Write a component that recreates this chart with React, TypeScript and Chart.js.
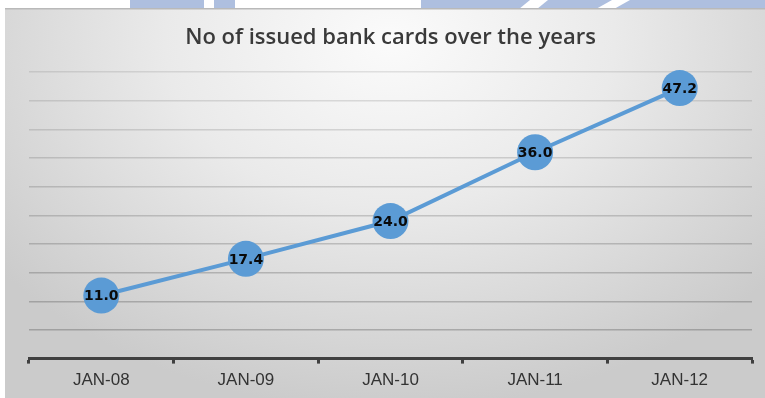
import React, { useEffect, useRef } from "react";
import { Chart, registerables } from "chart.js";

Chart.register(...registerables);

const categories: string[] = ["JAN-08", "JAN-09", "JAN-10", "JAN-11", "JAN-12"];
const cardsIssued: number[] = [11.0, 17.4, 24.0, 36.0, 47.2];
const yMin = 0;
const yMax = 50;
const yStep = 5;
const chartTitle = "No of issued bank cards over the years";

const W = 765;
const H = 398;

const backgroundPlugin = {
  id: "bgFrame",
  beforeDraw(chart: any) {
    const ctx = chart.ctx as CanvasRenderingContext2D;
    ctx.save();
    ctx.fillStyle = "#ffffff";
    ctx.fillRect(0, 0, W, H);
    // watermark strip on top
    ctx.fillStyle = "#aebfdf";
    ctx.fillRect(130, 0, 74, 9);
    ctx.fillRect(214, 0, 21, 9);
    ctx.beginPath();
    ctx.moveTo(421, 0);
    ctx.lineTo(530, 0);
    ctx.lineTo(519, 9);
    ctx.lineTo(421, 9);
    ctx.closePath();
    ctx.fill();
    ctx.beginPath();
    ctx.moveTo(548, 0);
    ctx.lineTo(612, 0);
    ctx.lineTo(596, 9);
    ctx.lineTo(537, 9);
    ctx.closePath();
    ctx.fill();
    ctx.beginPath();
    ctx.moveTo(630, 0);
    ctx.lineTo(765, 0);
    ctx.lineTo(765, 9);
    ctx.lineTo(614, 9);
    ctx.closePath();
    ctx.fill();
    // frame background
    ctx.beginPath();
    ctx.rect(5, 8, W - 5, H - 8);
    ctx.clip();
    ctx.save();
    ctx.translate(390, 40);
    ctx.scale(1.35, 1);
    const g = ctx.createRadialGradient(0, 0, 0, 0, 0, 370);
    g.addColorStop(0, "#fbfbfb");
    g.addColorStop(0.45, "#eaeaea");
    g.addColorStop(1, "#cbcbcb");
    ctx.fillStyle = g;
    ctx.fillRect(-400, -60, 800, 500);
    ctx.restore();
    ctx.fillStyle = "#b9b9b9";
    ctx.fillRect(5, 8, W - 5, 1.5);
    ctx.restore();
  },
};

const labelPlugin = {
  id: "pointLabels",
  afterDatasetsDraw(chart: any) {
    const ctx = chart.ctx as CanvasRenderingContext2D;
    const meta = chart.getDatasetMeta(0);
    const data = chart.data.datasets[0].data as number[];
    ctx.save();
    ctx.font = 'bold 14px "DejaVu Sans", sans-serif';
    ctx.fillStyle = "#0a0a0a";
    ctx.textAlign = "center";
    ctx.textBaseline = "middle";
    meta.data.forEach((pt: any, i: number) => {
      ctx.fillText(data[i].toFixed(1), pt.x, pt.y + 1);
    });
    ctx.restore();
  },
};

export default function App() {
  const ref = useRef<HTMLCanvasElement | null>(null);

  useEffect(() => {
    if (!ref.current) return;
    const chart = new Chart(ref.current, {
      type: "line",
      data: {
        labels: categories,
        datasets: [
          {
            data: cardsIssued,
            borderColor: "#5b9bd5",
            borderWidth: 4,
            backgroundColor: "#5b9bd5",
            pointBackgroundColor: "#5b9bd5",
            pointBorderWidth: 0,
            pointRadius: 18,
            pointHoverRadius: 18,
            tension: 0,
            clip: false as any,
          },
        ],
      },
      options: {
        responsive: false,
        animation: false,
        events: [],
        layout: { autoPadding: false, padding: { left: 29, right: 13, top: 8, bottom: 0 } },
        plugins: {
          legend: { display: false },
          tooltip: { enabled: false },
          title: {
            display: true,
            text: chartTitle,
            color: "#3a3a3a",
            font: { family: '"Open Sans", sans-serif', size: 22, weight: "600" },
            padding: { top: 17, bottom: 20.6 },
          },
        },
        scales: {
          x: {
            type: "category",
            offset: true,
            afterFit: (scale: any) => {
              scale.paddingLeft = 0;
              scale.paddingRight = 0;
            },
            grid: {
              offset: true,
              drawOnChartArea: false,
              drawTicks: true,
              tickLength: 5,
              tickColor: "#404040",
              tickWidth: 3,
            },
            border: { display: true, color: "#404040", width: 3 },
            ticks: {
              color: "#333333",
              padding: 7,
              font: { family: '"Liberation Sans", Arial, sans-serif', size: 17 },
              maxRotation: 0,
            },
          },
          y: {
            min: yMin,
            max: yMax,
            ticks: { display: false, stepSize: yStep },
            border: { display: false },
            grid: {
              drawTicks: false,
              lineWidth: 1.5,
              color: (c: any) => {
                const v = c.tick ? c.tick.value : 0;
                const a = 0.14 + (1 - v / yMax) * 0.2;
                return `rgba(70,70,70,${a.toFixed(3)})`;
              },
            },
          },
        },
      },
      plugins: [backgroundPlugin, labelPlugin],
    });
    return () => chart.destroy();
  }, []);

  return (
    <div style={{ position: "fixed", left: 0, top: 0, width: W, height: H }}>
      <canvas ref={ref} width={W} height={H} style={{ width: W, height: H, display: "block" }} />
    </div>
  );
}
